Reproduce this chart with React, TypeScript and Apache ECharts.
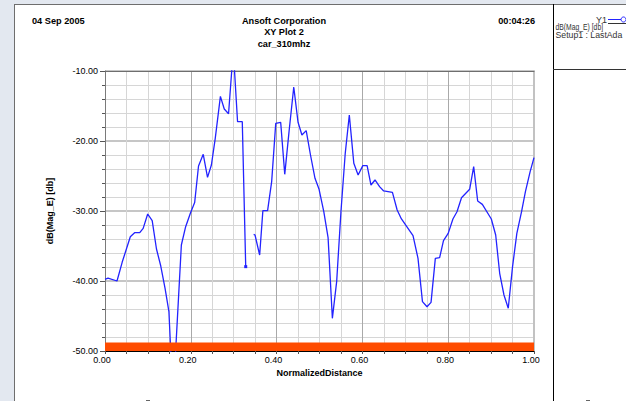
import React, { useEffect, useRef } from "react";
import * as echarts from "echarts";

const FONT = "'Liberation Sans', Arial, sans-serif";

// Normalized distance samples (x) and dB(Mag_E) values (y); null = gap in trace
const dist = [
  0, 0.007, 0.028, 0.04, 0.059, 0.069, 0.081, 0.089, 0.0995, 0.11,
  0.12, 0.13, 0.14, 0.149, 0.1585, 0.178, 0.188, 0.199, 0.209, 0.218,
  0.229, 0.239, 0.248, 0.257, 0.269, 0.278, 0.288, 0.299, 0.309, 0.32,
  0.328, 0.337, 0.3465, 0.3497, 0.3605, 0.368, 0.379, 0.3885, 0.398, 0.4095,
  0.419, 0.429, 0.44, 0.45, 0.459, 0.469, 0.479, 0.4895, 0.499, 0.51,
  0.52, 0.53, 0.54, 0.55, 0.56, 0.5695, 0.58, 0.59, 0.601, 0.611,
  0.62, 0.6294, 0.64, 0.6496, 0.67, 0.681, 0.691, 0.718, 0.7296, 0.74,
  0.7506, 0.76, 0.77, 0.78, 0.789, 0.8, 0.811, 0.8205, 0.831, 0.85,
  0.8594, 0.8687, 0.8796, 0.9005, 0.9107, 0.92, 0.93, 0.94, 0.95, 0.96,
  0.971, 0.98, 0.991, 1.0,
];
const magE: (number | null)[] = [
  -39.76, -39.6, -40.0, -37.33, -33.67, -33.1, -33.1, -32.48, -30.43, -31.38,
  -35.43, -37.86, -41.05, -44.38, -57, -34.86, -32.24, -30.33, -28.8, -23.57,
  -21.9, -25.19, -23.43, -19.62, -13.62, -15.43, -16.1, -7, -17.24, -17.24,
  -37.95, null, -33.33, -33.43, -36.29, -29.95, -29.95, -25.8, -17.48, -17.33,
  -24.76, -18.67, -12.29, -17.33, -19.14, -18.52, -22.0, -25.33, -26.9, -30.1,
  -33.8, -45.33, -40.1, -30.1, -21.76, -16.29, -23.19, -24.86, -23.52, -23.52,
  -26.29, -25.57, -26.52, -27.14, -27.33, -29.86, -31.14, -33.52, -36.76, -42.95,
  -43.67, -43.05, -36.76, -36.67, -34.24, -33.19, -31.14, -30.1, -28.1, -26.9,
  -23.67, -28.57, -29.05, -31.14, -33.43, -38.9, -42, -43.9, -37.95, -33.19,
  -30.1, -27.24, -24.38, -22.38,
];
// Orange band along the bottom of the plot (dB level of its top edge)
const bandX = [0, 1];
const bandTop = [-48.8, -48.8];

const xRange = { min: 0, max: 1, interval: 0.2 };
const yRange = { min: -50, max: -10, interval: 10 };

const headerTexts = {
  date: "04 Sep 2005",
  company: "Ansoft Corporation",
  plot: "XY Plot 2",
  design: "car_310mhz",
  time: "00:04:26",
};
const legendTexts = {
  name: "Y1",
  quantity: "dB(Mag_E) [db]",
  setup: "Setup1 : LastAda",
};

export default function App() {
  const ref = useRef<HTMLDivElement>(null);
  useEffect(() => {
    if (!ref.current) return;
    const chart = echarts.init(ref.current, undefined, { renderer: "svg" });
    const lineData = dist.map((x, i) => {
      const y = magE[i];
      if (y === null) return [x, "-"];
      if (i === 30) return { value: [x, y], symbol: "rect", symbolSize: 3 };
      return [x, y];
    });
    const bandData = bandX.map((x, i) => [x, bandTop[i]]);
    const tickColor = "#555";
    const headStyle = (text: string, align: string) => ({
      text,
      font: `bold 9.2px ${FONT}`,
      fill: "#000",
      textAlign: align,
      textVerticalAlign: "middle",
    });
    chart.setOption({
      animation: false,
      backgroundColor: "transparent",
      textStyle: { fontFamily: FONT },
      grid: { left: 105, top: 71, right: 92, bottom: 50, containLabel: false },
      xAxis: [
        {
          type: "value",
          ...xRange,
          position: "bottom",
          name: "NormalizedDistance",
          nameLocation: "middle",
          nameGap: 13,
          nameTextStyle: { fontWeight: "bold", fontSize: 9, color: "#000", fontFamily: FONT },
          axisLine: { show: true, onZero: false, lineStyle: { color: "#000", width: 1 } },
          axisTick: { show: true, length: 3, lineStyle: { color: tickColor } },
          minorTick: { show: true, splitNumber: 4, length: 3, lineStyle: { color: tickColor } },
          axisLabel: {
            formatter: (v: number) => v.toFixed(2),
            fontSize: 9,
            color: "#000",
            margin: 4,
            padding: [0, 6, 0, 0],
            fontFamily: FONT,
          },
          splitLine: { show: true, lineStyle: { color: "#a9a9a9", width: 1 } },
          minorSplitLine: { show: true, lineStyle: { color: "#d6d6d6", width: 1 } },
        },
        {
          type: "value",
          ...xRange,
          position: "top",
          axisLine: { show: true, onZero: false, lineStyle: { color: "#6e6e6e", width: 1 } },
          axisTick: { show: false },
          axisLabel: { show: false },
          splitLine: { show: false },
        },
      ],
      yAxis: [
        {
          type: "value",
          ...yRange,
          position: "left",
          name: "dB(Mag_E) [db]",
          nameLocation: "middle",
          nameGap: 51,
          nameRotate: 90,
          nameTextStyle: { fontWeight: "bold", fontSize: 9, color: "#000", fontFamily: FONT },
          axisLine: { show: true, onZero: false, lineStyle: { color: "#7a7a7a", width: 1 } },
          axisTick: { show: true, length: 5, lineStyle: { color: tickColor } },
          minorTick: { show: true, splitNumber: 5, length: 3, lineStyle: { color: tickColor } },
          axisLabel: {
            formatter: (v: number) => v.toFixed(2),
            fontSize: 9,
            color: "#000",
            margin: 7,
            fontFamily: FONT,
          },
          splitLine: { show: true, lineStyle: { color: "#c6c6c6", width: 2 } },
          minorSplitLine: { show: true, lineStyle: { color: "#d6d6d6", width: 1 } },
        },
        {
          type: "value",
          ...yRange,
          position: "right",
          axisLine: { show: true, onZero: false, lineStyle: { color: "#c2c2c2", width: 2 } },
          axisTick: { show: false },
          axisLabel: { show: false },
          splitLine: { show: false },
        },
      ],
      series: [
        {
          name: "Y1",
          type: "line",
          data: lineData,
          symbol: "none",
          connectNulls: false,
          clip: true,
          itemStyle: { color: "#2323ff" },
          lineStyle: { color: "#2323ff", width: 1.3 },
          z: 3,
        },
        {
          name: "band",
          type: "line",
          data: bandData,
          symbol: "none",
          lineStyle: { width: 0 },
          areaStyle: { color: "#ff4c00", opacity: 1, origin: "start" },
          z: 4,
          silent: true,
        },
      ],
      graphic: [
        { type: "text", x: 32, y: 21, style: headStyle(headerTexts.date, "left") },
        { type: "text", x: 284, y: 21, style: headStyle(headerTexts.company, "center") },
        { type: "text", x: 284, y: 32, style: headStyle(headerTexts.plot, "center") },
        { type: "text", x: 284, y: 43.5, style: headStyle(headerTexts.design, "center") },
        { type: "text", x: 535, y: 21, style: headStyle(headerTexts.time, "right") },
        {
          type: "text",
          x: 607,
          y: 19.5,
          style: { text: legendTexts.name, font: `9px ${FONT}`, fill: "#333", textAlign: "right", textVerticalAlign: "middle" },
        },
        {
          type: "line",
          shape: { x1: 608, y1: 19.5, x2: 621, y2: 19.5 },
          style: { stroke: "#2323ff", lineWidth: 1 },
        },
        {
          type: "circle",
          shape: { cx: 623.5, cy: 19.5, r: 2.5 },
          style: { stroke: "#2323ff", fill: "#fff", lineWidth: 1 },
        },
        {
          type: "line",
          shape: { x1: 608, y1: 23.5, x2: 626, y2: 23.5 },
          style: { stroke: "#333", lineWidth: 1 },
        },
        {
          type: "text",
          x: 555.5,
          y: 27.5,
          scaleX: 0.8,
          style: { text: legendTexts.quantity, font: `8.5px ${FONT}`, fill: "#333", textAlign: "left", textVerticalAlign: "middle" },
        },
        {
          type: "text",
          x: 555.5,
          y: 35,
          scaleX: 0.99,
          style: { text: legendTexts.setup, font: `8.8px ${FONT}`, fill: "#333", textAlign: "left", textVerticalAlign: "middle" },
        },
        {
          type: "line",
          shape: { x1: 146, y1: 400.5, x2: 150, y2: 400.5 },
          style: { stroke: "#666", lineWidth: 1 },
        },
        {
          type: "line",
          shape: { x1: 586, y1: 400.5, x2: 590, y2: 400.5 },
          style: { stroke: "#666", lineWidth: 1 },
        },
      ],
    });
    return () => chart.dispose();
  }, []);

  return (
    <div style={{ position: "fixed", left: 0, top: 0, width: 626, height: 401, background: "#e3e8f0", overflow: "hidden" }}>
      <div style={{ position: "absolute", left: 14, top: 4, width: 612, height: 397, background: "#fff", borderLeft: "1px solid #6e6e6e", borderTop: "1px solid #6e6e6e", boxSizing: "border-box" }} />
      <div style={{ position: "absolute", left: 553, top: 4, width: 1, height: 397, background: "#000" }} />
      <div style={{ position: "absolute", left: 553, top: 69, width: 73, height: 1, background: "#333" }} />
      <div ref={ref} style={{ position: "absolute", left: 0, top: 0, width: 626, height: 401 }} />
    </div>
  );
}
